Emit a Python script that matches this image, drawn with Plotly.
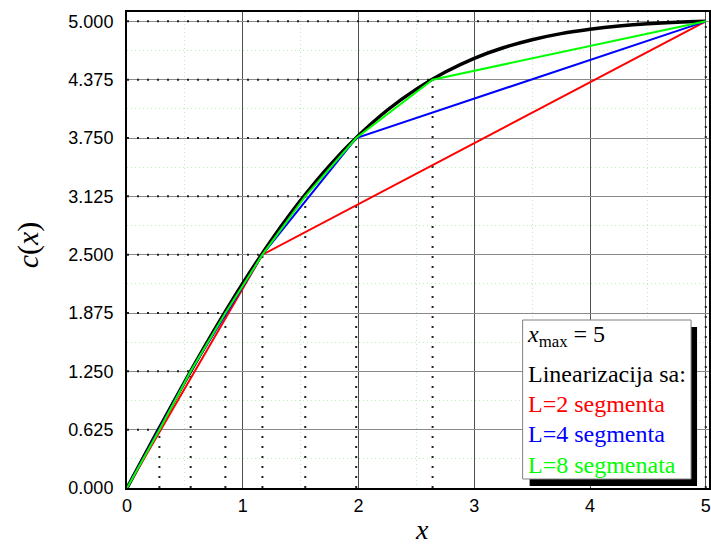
import plotly.graph_objects as go

# ---- data ----
curve_x = [0, 0.25, 0.5, 0.75, 1.0, 1.25, 1.5, 1.75, 2.0, 2.25, 2.5, 2.75, 3.0,
           3.25, 3.5, 3.75, 4.0, 4.25, 4.5, 4.75, 5.0]
curve_y = [0, 0.577, 1.141, 1.682, 2.191, 2.659, 3.081, 3.454, 3.776, 4.050, 4.274,
           4.457, 4.604, 4.717, 4.803, 4.868, 4.915, 4.950, 4.975, 4.991, 5.0]

break_x = [0, 0.28, 0.55, 0.85, 1.17, 1.54, 1.98, 2.64, 5.0]
break_y = [0, 0.625, 1.25, 1.875, 2.5, 3.125, 3.75, 4.375, 5.0]

y_ticks = [0, 0.625, 1.25, 1.875, 2.5, 3.125, 3.75, 4.375, 5.0]
x_ticks = [0, 1, 2, 3, 4, 5]

legend_lines = ["<i>x</i><sub>max</sub> = 5", "Linearizacija sa:",
                "L=2 segmenta", "L=4 segmenta", "L=8 segmenata"]
legend_colors = ["black", "black", "#ff0000", "#0000ff", "#00ff00"]

# ---- layout geometry (pixels) ----
W, H = 711, 544
L_, R_, T_, B_ = 127, 0, 12, 56
PW = W - L_ - R_
PH = H - T_ - B_


def px(xp):
    return (xp - L_) / PW


def py(yp):
    return (H - B_ - yp) / PH


fig = go.Figure()

# dotted guide lines
gx, gy = [], []
for xv, yv in zip(break_x[1:], break_y[1:]):
    gx += [xv, xv, None, 0, xv, None]
    gy += [0, yv, None, yv, yv, None]
fig.add_trace(go.Scatter(x=gx, y=gy, mode="lines",
                         line=dict(color="#222222", width=2, dash="2px,8px"),
                         hoverinfo="skip", showlegend=False))

fig.add_trace(go.Scatter(x=curve_x, y=curve_y, mode="lines", line_shape="spline",
                         line=dict(color="black", width=3.5), showlegend=False))
fig.add_trace(go.Scatter(x=break_x[::4], y=break_y[::4], mode="lines",
                         line=dict(color="#ff0000", width=2), showlegend=False))
fig.add_trace(go.Scatter(x=break_x[::2], y=break_y[::2], mode="lines",
                         line=dict(color="#0000ff", width=2), showlegend=False))
fig.add_trace(go.Scatter(x=break_x, y=break_y, mode="lines",
                         line=dict(color="#00ff00", width=2), showlegend=False))

tickfont = dict(family="Liberation Sans, Arial", size=18, color="black")

fig.update_xaxes(range=[0, 5.028], tickvals=x_ticks, ticktext=[str(v) for v in x_ticks],
                 showgrid=True, gridcolor="#505050", gridwidth=1,
                 minor=dict(dtick=0.5, tick0=0, showgrid=True, gridcolor="#b8f0b8",
                            griddash="1px,3px", gridwidth=1),
                 showline=True, linecolor="black", linewidth=2, mirror=True,
                 ticks="", ticklabelstandoff=0, tickfont=tickfont, zeroline=False)
fig.update_yaxes(range=[0, 5.1], tickvals=y_ticks, ticktext=[f"{v:.3f}" for v in y_ticks],
                 showgrid=True, gridcolor="#8a8a8a", gridwidth=1,
                 minor=dict(dtick=0.3125, tick0=0, showgrid=True, gridcolor="#b8f0b8",
                            griddash="1px,3px", gridwidth=1),
                 showline=True, linecolor="black", linewidth=2, mirror=True,
                 ticks="", ticklabelstandoff=8, tickfont=tickfont, zeroline=False)

shapes = [
    dict(type="rect", xref="paper", yref="paper", x0=px(531), x1=px(699),
         y0=py(486), y1=py(327), fillcolor="black", line=dict(width=0), layer="above"),
    dict(type="rect", xref="paper", yref="paper", x0=px(524), x1=px(693),
         y0=py(479), y1=py(320), fillcolor="white",
         line=dict(color="#808080", width=1), layer="above"),
]

serif = "Liberation Serif, Times New Roman"
annotations = []
row_y = [336, 374, 404, 434, 465]
row_x = [526, 527, 527, 527, 527]
for txt, col, yy, xx in zip(legend_lines, legend_colors, row_y, row_x):
    annotations.append(dict(xref="paper", yref="paper", x=px(xx), y=py(yy),
                            xanchor="left", yanchor="middle", text=txt, showarrow=False,
                            font=dict(family=serif, size=24, color=col)))

annotations.append(dict(xref="paper", yref="paper", x=px(423), y=py(529), text="<i>x</i>",
                        showarrow=False, xanchor="center", yanchor="middle",
                        font=dict(family=serif, size=28, color="black")))
annotations.append(dict(xref="paper", yref="paper", x=px(28), y=py(245),
                        text="<i>c</i>(<i>x</i>)", textangle=-90,
                        showarrow=False, xanchor="center", yanchor="middle",
                        font=dict(family=serif, size=30, color="black")))

fig.update_layout(width=W, height=H, margin=dict(l=L_, r=R_, t=T_, b=B_),
                  plot_bgcolor="white", paper_bgcolor="white",
                  shapes=shapes, annotations=annotations, showlegend=False)

fig.write_html("out.html")
